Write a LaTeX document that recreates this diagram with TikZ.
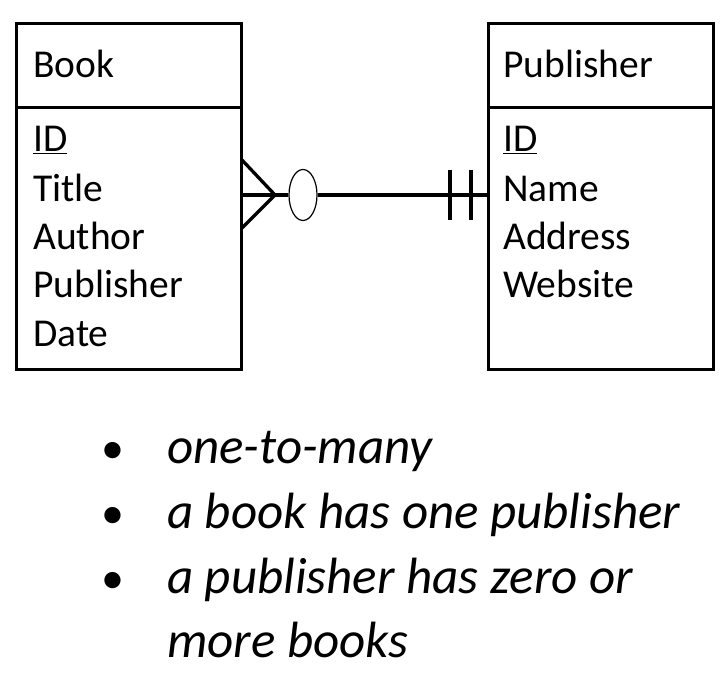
\documentclass[tikz,border=0pt]{standalone}
\usepackage{fontspec}
\setmainfont{Carlito}
\usetikzlibrary{shapes.geometric}

\tikzset{
    entbox/.style={draw,line width=3.3pt,anchor=north west,inner sep=0pt},
    attr/.style={anchor=base west,inner sep=0pt,font=\fontsize{39.5}{46}\selectfont},
    rel/.style={line width=3.3pt},
    note/.style={anchor=base west,inner sep=0pt,font=\fontsize{51}{60}\selectfont\itshape}
}

\begin{document}
\begin{tikzpicture}[x=1pt,y=-1pt]
        \useasboundingbox (0,0) rectangle (726,676);
        % the two entities
        \node[entbox,minimum width=225pt,minimum height=84pt] (bookhead) at (15,22) {};
        \node[entbox,minimum width=225pt,minimum height=262pt] (bookbody) at (15,106) {};
        \node[entbox,minimum width=225pt,minimum height=84pt] (pubhead) at (487,22) {};
        \node[entbox,minimum width=225pt,minimum height=262pt] (pubbody) at (487,106) {};
        \node[attr] (booktitle) at (33,78) {Book};
        \node[attr] (pubtitle) at (503,78) {Publisher};
        \foreach \y/\lab [count=\n] in {152/\underline{ID},202/Title,250/Author,298/Publisher,347/Date} {
            \node[attr] (bookattr\n) at (33,\y) {\lab};
        }
        \foreach \y/\lab [count=\n] in {152/\underline{ID},202/Name,250/Address,298/Website} {
            \node[attr] (pubattr\n) at (503,\y) {\lab};
        }
        % relationship: many (optional) to exactly one
        \node[draw,ellipse,line width=1.2pt,minimum width=28pt,minimum height=51pt,inner sep=0pt] (ovl) at (303,195) {};
        \coordinate (apex) at (275,195);
        \draw[rel] (bookbody.east |- ovl) -- (apex) -- (ovl);
        \draw[rel] (apex) -- ++(-33,-35);
        \draw[rel] (apex) -- ++(-33,33);
        \draw[rel] (ovl) -- (pubbody.west |- ovl);
        \foreach \x in {450,471} {
            \draw[rel] (\x,170) -- (\x,220);
        }
        % notes
        \foreach \y/\lab [count=\n] in {463/one-to-many,528/a book has one publisher,593/a publisher has zero or} {
            \node[anchor=base,inner sep=0pt,font=\fontsize{46}{54}\selectfont] (dot\n) at (113,\y) {\textbullet};
            \node[note] (note\n) at (167,\y) {\lab};
        }
        \node[note] (note4) at (167,657) {more books};
    \end{tikzpicture}
\end{document}
